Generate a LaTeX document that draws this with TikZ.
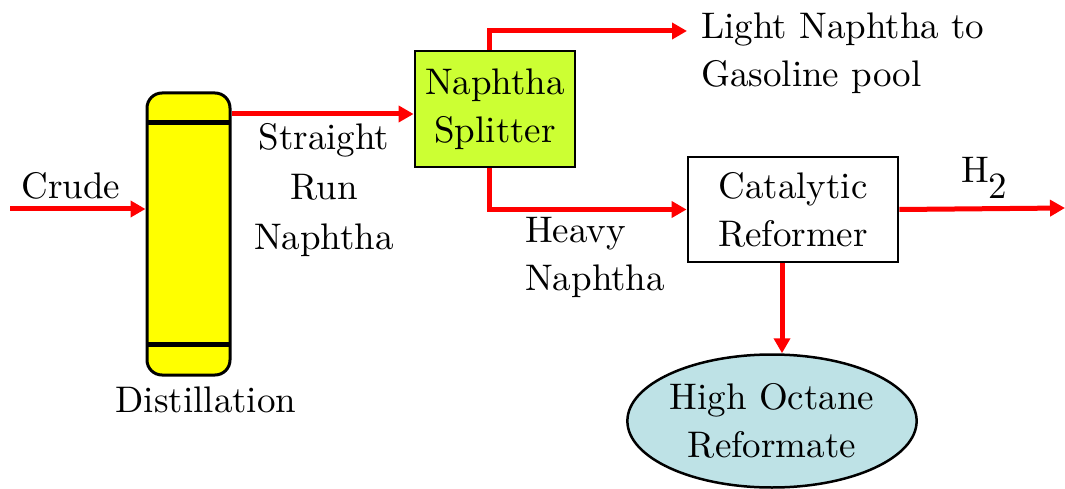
\documentclass[tikz,border=0pt]{standalone}
\usepackage{fontspec}
\setmainfont{lmroman10-regular.otf}
\usetikzlibrary{arrows.meta,shapes.geometric}
\definecolor{flowred}{RGB}{255,0,0}
\definecolor{colyellow}{RGB}{255,255,0}
\definecolor{splitgreen}{RGB}{204,255,51}
\definecolor{prodcyan}{RGB}{190,226,230}
\tikzset{
  flow/.style={draw=flowred, line width=5pt, line join=miter,
    -{Triangle[length=15pt,width=16pt]}},
  unitbox/.style={draw=black, line width=2.8pt, inner sep=0pt, align=center},
  lbl/.style={inner sep=0pt, align=center},
}
\begin{document}
\begin{tikzpicture}[x=1pt,y=-1pt,font=\rmfamily\fontsize{37}{48}\selectfont]
\useasboundingbox (0,0) rectangle (1065,489);

% distillation column with its two trays
\node[draw=black, line width=3pt, fill=colyellow, rounded corners=15pt,
      minimum width=83pt, minimum height=282pt, inner sep=0pt] (col) at (188.5,234) {};
\draw[line width=5pt] ([xshift=1.5pt]col.west |- 0,123) -- ([xshift=-1.5pt]col.east |- 0,123);
\draw[line width=5pt] ([xshift=1.5pt]col.west |- 0,344) -- ([xshift=-1.5pt]col.east |- 0,344);
\node[lbl] (distlbl) at (206,400) {Distillation};

% process units
\node[unitbox, fill=splitgreen, minimum width=160pt, minimum height=116pt] (split) at (495,109)
  {Naphtha\\Splitter};
\node[unitbox, fill=white, minimum width=210pt, minimum height=105pt] (cat) at (793,209.5)
  {Catalytic\\Reformer};
\node[ellipse, draw=black, line width=2.5pt, fill=prodcyan, minimum width=252pt,
      minimum height=133pt, inner sep=0pt, align=center] (ref) at (772,421)
  {High Octane\\Reformate};

% stream labels
\node[lbl] (crudelbl) at (71,186) {Crude};
\node[lbl, font=\rmfamily\fontsize{37}{50}\selectfont] (srnlbl) at (324,190) {Straight\\Run\\Naphtha};
\node[lbl, align=left, anchor=west] (lightlbl) at (701,53) {Light Naphtha to\\Gasoline pool};
\node[lbl, align=left, anchor=west] (heavylbl) at (525,257) {Heavy\\Naphtha};
\node[lbl, anchor=base west] (h2lbl) at (961,183) {H\raisebox{-16pt}{2}};

% free stream ends
\coordinate (crudein) at (10,209);
\coordinate (lightout) at (687,31);
\coordinate (h2out) at (1065,208);

% streams
\draw[flow] (crudein) -- (col.west |- crudein);
\draw[flow] (col.east |- 0,114) -- (split.west |- 0,114);
\draw[flow] (split.north -| 489,0) |- (lightout);
\draw[flow] (split.south -| 489,0) |- (cat.west);
\draw[flow] (cat.east) -- (h2out);
\draw[flow] (cat.south -| 782,0) -- (ref.north -| 782,0);
\end{tikzpicture}
\end{document}
